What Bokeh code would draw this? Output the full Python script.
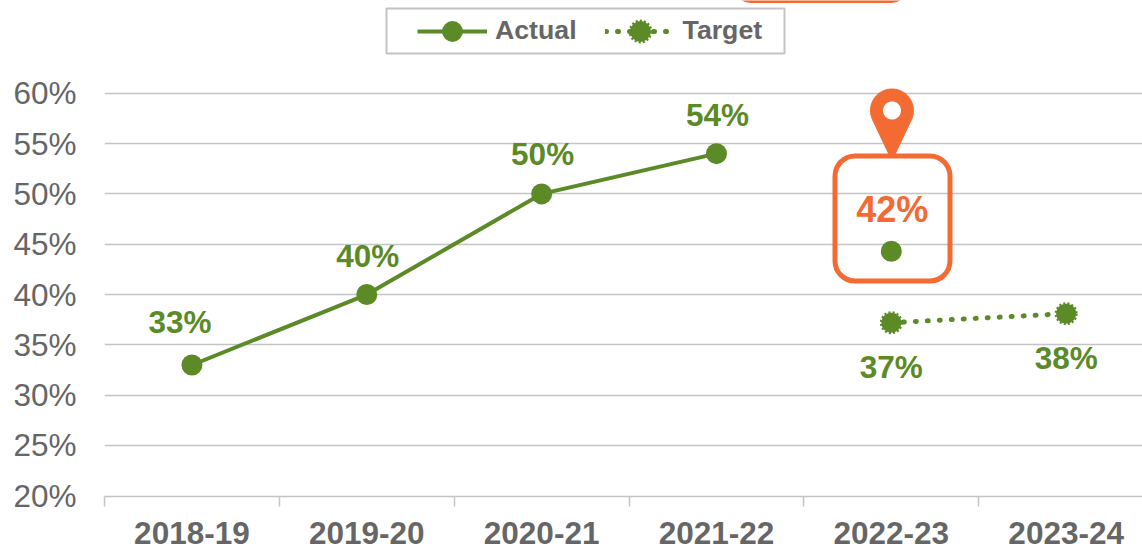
import numpy as np
from bokeh.plotting import figure
from bokeh.embed import file_html
from bokeh.resources import INLINE
from bokeh.core.properties import value
from bokeh.models import (Range1d, FixedTicker, Legend, LegendItem, BoxAnnotation,
                          PolyAnnotation, ColumnDataSource, LabelSet)

categories = ["2018-19", "2019-20", "2020-21", "2021-22", "2022-23", "2023-24"]
y_ticks = [20, 25, 30, 35, 40, 45, 50, 55, 60]
actual_line = [33, 40, 50, 54]
actual_highlight = 44.3
target = [37.2, 38.1]
actual_labels = ["33%", "40%", "50%", "54%"]
highlight_label = "42%"
target_labels = ["37%", "38%"]

GREEN = "#5B8A27"
ORANGE = "#F46A33"
GREY = "#666666"
GRID = "#C4C4C4"
FONT = "Liberation Sans"

W, H = 1142, 546
LEFT, BOTTOM = 104, 496
CAT_W = 174.85
PX_PER_PCT = (496 - 93.5) / 40
Y_START = 19.93

p = figure(width=W, height=H, output_backend="svg", toolbar_location=None,
           x_range=Range1d(0, (W - LEFT) / CAT_W),
           y_range=Range1d(Y_START, Y_START + BOTTOM / PX_PER_PCT),
           min_border_left=LEFT, min_border_right=0, min_border_top=0,
           min_border_bottom=H - BOTTOM, outline_line_color=None,
           background_fill_color="white", border_fill_color="white")
p.styles = {"position": "absolute", "left": "0px", "top": "0px"}


def sx(x):  # page x to annotation screen x (frame relative)
    return x - LEFT


def sy(y):  # page y to annotation screen y (frame relative, upward)
    return BOTTOM - y


centers = [i + 0.5 for i in range(len(categories))]
xa = p.xaxis[0]
xa.ticker = FixedTicker(ticks=centers, minor_ticks=list(range(len(categories) + 1)))
xa.major_label_overrides = {c: n for c, n in zip(centers, categories)}
xa.major_tick_line_color = None
xa.major_tick_in = 0
xa.major_tick_out = 0
xa.minor_tick_line_color = GRID
xa.minor_tick_line_width = 1.5
xa.minor_tick_in = 0
xa.minor_tick_out = 10
xa.axis_line_color = GRID
xa.axis_line_width = 1.5
xa.major_label_text_font = FONT
xa.major_label_text_font_style = "bold"
xa.major_label_text_font_size = "31.5px"
xa.major_label_text_color = GREY
xa.major_label_standoff = 15

ya = p.yaxis[0]
ya.ticker = FixedTicker(ticks=y_ticks, minor_ticks=[])
ya.major_label_overrides = {t: f"{t}%" for t in y_ticks}
ya.major_tick_line_color = None
ya.axis_line_color = None
ya.major_label_text_font = FONT
ya.major_label_text_font_size = "31.5px"
ya.major_label_text_color = GREY
ya.major_label_standoff = 22

p.xgrid.visible = False
p.ygrid[0].ticker = FixedTicker(ticks=y_ticks[1:], minor_ticks=[])
p.ygrid.grid_line_color = GRID
p.ygrid.grid_line_width = 1.5

# call-outs (positions given in page pixels)
p.add_layout(BoxAnnotation(left=sx(834.5), right=sx(949.5), top=sy(155.5), bottom=sy(280.5),
                           left_units="screen", right_units="screen",
                           top_units="screen", bottom_units="screen",
                           fill_alpha=0, line_color=ORANGE, line_alpha=1, line_width=5,
                           border_radius=20))
p.add_layout(BoxAnnotation(left=sx(736), right=sx(905), top=sy(-30), bottom=sy(0.5),
                           left_units="screen", right_units="screen",
                           top_units="screen", bottom_units="screen",
                           fill_alpha=0, line_color=ORANGE, line_alpha=1, line_width=4,
                           border_radius=14))
p.add_layout(BoxAnnotation(left=sx(386), right=sx(784), top=sy(8), bottom=sy(53),
                           left_units="screen", right_units="screen",
                           top_units="screen", bottom_units="screen",
                           fill_color="white", fill_alpha=1, line_color=GRID, line_alpha=1, line_width=2))
cx, cy, r = 891.5, 110, 21.5
theta = np.radians(np.linspace(-25, 205, 60))
pin_x = np.r_[cx + r * np.cos(theta), cx - 2, cx + 2]
pin_y = np.r_[cy - r * np.sin(theta), 156, 156]
p.add_layout(PolyAnnotation(xs=sx(pin_x).tolist(), ys=sy(pin_y).tolist(), xs_units="screen", ys_units="screen",
                            fill_color=ORANGE, fill_alpha=1, line_color=ORANGE, line_alpha=1, line_width=1))
t = np.radians(np.linspace(0, 360, 40))
p.add_layout(PolyAnnotation(xs=sx(cx + 9 * np.cos(t)).tolist(), ys=sy(cy + 9 * np.sin(t)).tolist(),
                            xs_units="screen", ys_units="screen",
                            fill_color="white", fill_alpha=1, line_color="white", line_alpha=1, line_width=0))

# series
xa_pts = centers[:4]
l1 = p.line(xa_pts, actual_line, line_color=GREEN, line_width=4)
s1 = p.scatter(xa_pts, actual_line, size=21, fill_color=GREEN, line_color=GREEN, line_width=0)
p.scatter([centers[4]], [actual_highlight], size=21, fill_color=GREEN, line_color=GREEN, line_width=0)
l2 = p.line(centers[4:], target, line_color=GREEN, line_width=5, line_dash="1 11", line_cap="round")
s2 = p.scatter(centers[4:], target, size=20, fill_color=GREEN, line_color=GREEN,
               line_width=3, line_dash=value([2, 2]))


def labels(xs, ys, texts, color, dx, dy, size="31.5px"):
    src = ColumnDataSource(dict(x=xs, y=ys, text=texts, dx=dx, dy=dy))
    p.add_layout(LabelSet(x="x", y="y", text="text", source=src, x_offset="dx", y_offset="dy",
                          text_font=value(FONT), text_font_style="bold", text_font_size=size,
                          text_color=color, text_align="center", text_baseline="middle"))


labels(xa_pts, actual_line, actual_labels, GREEN, [-12, 1, 1, 1], [43, 39, 40, 39])
labels([centers[4]], [actual_highlight], [highlight_label], ORANGE, [1], [42], size="36px")
labels(centers[4:], target, target_labels, GREEN, [0, 0], [-44, -44])

legend = Legend(items=[LegendItem(label="Actual", renderers=[l1, s1]),
                       LegendItem(label="Target", renderers=[l2, s2])],
                orientation="horizontal", location=(sx(417), sy(30.5) - 26), margin=0,
                padding=0, spacing=28, label_standoff=8, glyph_width=70, glyph_height=52,
                label_text_font=FONT, label_text_font_style="bold", label_text_font_size="26.7px",
                label_text_color=GREY, border_line_color=None,
                background_fill_alpha=0)
p.add_layout(legend, "center")

open("out.html", "w").write(file_html(p, INLINE))
